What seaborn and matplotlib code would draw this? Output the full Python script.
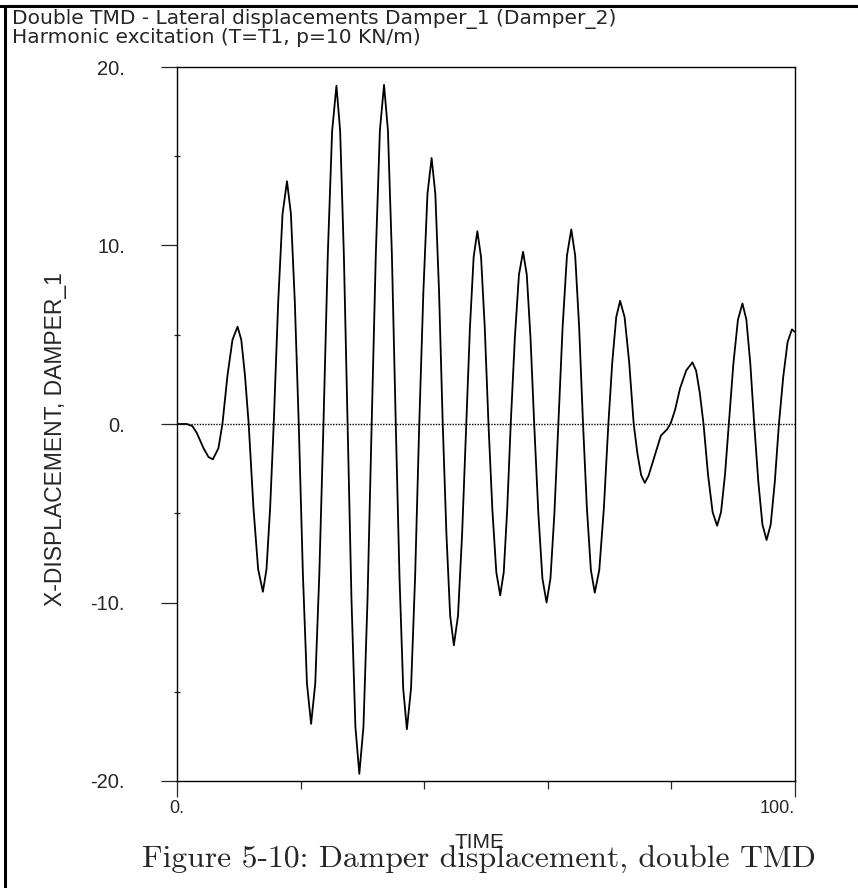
import matplotlib
matplotlib.use("Agg")
import matplotlib.pyplot as plt
import matplotlib.ticker as ticker
from matplotlib.lines import Line2D
import seaborn as sns
import pandas as pd

# Valores (tempo, deslocamento do Damper_1)
time = [0.0, 1.6, 2.5, 3.2, 4.3, 5.1, 5.8, 6.7, 7.35, 8.17, 8.98, 9.8, 10.4, 11.0,
        11.6, 12.37, 13.13, 13.9, 14.48, 15.07, 15.65, 16.37, 17.08, 17.8, 18.43, 19.07,
        19.7, 20.37, 21.03, 21.7, 22.37, 23.03, 23.7, 24.4, 25.1, 25.8, 26.4, 27.0,
        27.6, 28.23, 28.87, 29.5, 30.17, 30.83, 31.5, 32.17, 32.83, 33.5, 34.13, 34.77,
        35.4, 36.0, 36.6, 37.2, 37.87, 38.53, 39.2, 39.87, 40.53, 41.2, 41.8, 42.4,
        43.0, 43.6, 44.2, 44.8, 45.47, 46.13, 46.8, 47.4, 48.0, 48.6, 49.2, 49.8,
        50.4, 51.03, 51.67, 52.3, 52.87, 53.43, 54.0, 54.67, 55.33, 56.0, 56.6, 57.2,
        57.8, 58.47, 59.13, 59.8, 60.43, 61.07, 61.7, 62.4, 63.1, 63.8, 64.43, 65.07,
        65.7, 66.33, 66.97, 67.6, 68.33, 69.07, 69.8, 70.43, 71.07, 71.7, 72.43, 73.17,
        73.9, 74.5, 75.1, 75.7, 76.3, 77.1, 78.3, 79.3, 79.9, 80.6, 81.4, 82.4, 83.4,
        84.0, 84.6, 85.2, 85.93, 86.67, 87.4, 88.03, 88.67, 89.3, 90.03, 90.77, 91.5,
        92.13, 92.77, 93.4, 94.07, 94.73, 95.4, 96.07, 96.73, 97.4, 98.1, 98.8, 99.5, 100.0]
displacement = [0.0, 0.0, -0.12, -0.5, -1.36, -1.85, -1.98, -1.36, 0.0, 2.72, 4.72, 5.45, 4.72, 2.72,
                0.0, -4.7, -8.14, -9.4, -8.14, -4.7, 0.0, 6.8, 11.78, 13.6, 11.78, 6.8,
                0.0, -8.4, -14.55, -16.8, -14.55, -8.4, 0.0, 9.48, 16.41, 18.95, 16.41, 9.48,
                0.0, -9.8, -16.97, -19.6, -16.97, -9.8, 0.0, 9.5, 16.45, 19.0, 16.45, 9.5,
                0.0, -8.55, -14.81, -17.1, -14.81, -8.55, 0.0, 7.45, 12.9, 14.9, 12.9, 7.45,
                0.0, -6.2, -10.74, -12.4, -10.74, -6.2, 0.0, 5.4, 9.35, 10.8, 9.35, 5.4,
                0.0, -4.8, -8.31, -9.6, -8.31, -4.8, 0.0, 4.83, 8.36, 9.65, 8.36, 4.83,
                0.0, -5.0, -8.66, -10.0, -8.66, -5.0, 0.0, 5.45, 9.44, 10.9, 9.44, 5.45,
                0.0, -4.73, -8.18, -9.45, -8.18, -4.73, 0.0, 3.45, 5.98, 6.9, 5.98, 3.45,
                0.0, -1.65, -2.86, -3.3, -2.9, -2.0, -0.65, -0.3, 0.05, 0.8, 2.0, 3.0, 3.45,
                2.99, 1.73, 0.0, -2.85, -4.94, -5.7, -4.94, -2.85, 0.0, 3.38, 5.85, 6.75,
                5.85, 3.38, 0.0, -3.25, -5.63, -6.5, -5.63, -3.25, 0.0, 2.65, 4.59, 5.3, 5.15]

y_ticks = [-20, -10, 0, 10, 20]
y_tick_labels = ['-20.', '-10.', '0.', '10.', '20.']
y_minor = [-15, -5, 5, 15]
x_ticks = [0, 100]
x_tick_labels = ['0.', '100.']
x_minor = [20, 40, 60, 80]

title_lines = ['Double TMD - Lateral displacements Damper_1 (Damper_2)',
               'Harmonic excitation (T=T1, p=10 KN/m)']
caption = 'Figure 5-10: Damper displacement, double TMD'


def main():
    sns.set_style('white')
    plt.rcParams['font.family'] = ['Liberation Sans', 'DejaVu Sans']

    df = pd.DataFrame({'TIME': time, 'DISP': displacement})

    fig = plt.figure(figsize=(8.58, 8.88), dpi=100)
    ax = fig.add_axes([177 / 858, 1 - 781 / 888, 618 / 858, 714 / 888])

    # Linha do zero pontilhada
    ax.axhline(0, color='black', lw=1.0, linestyle=(0, (1, 1)), zorder=1)

    sns.lineplot(data=df, x='TIME', y='DISP', color='black', lw=1.3, ax=ax, zorder=3)

    ax.set_xlim(0, 100)
    ax.set_ylim(-20, 20)

    for s in ax.spines.values():
        s.set_visible(True)
        s.set_color('black')
        s.set_linewidth(1.0)
        s.set_linestyle((0, (1, 1)))

    ax.yaxis.set_major_locator(ticker.FixedLocator(y_ticks))
    ax.yaxis.set_major_formatter(ticker.FixedFormatter(y_tick_labels))
    ax.yaxis.set_minor_locator(ticker.FixedLocator(y_minor))
    ax.xaxis.set_major_locator(ticker.FixedLocator(x_ticks))
    ax.xaxis.set_major_formatter(ticker.FixedFormatter(x_tick_labels))
    ax.xaxis.set_minor_locator(ticker.FixedLocator(x_minor))

    ax.tick_params(axis='y', which='major', direction='out', length=11.5, width=0.9,
                   pad=26, labelsize=14.5, left=True)
    ax.tick_params(axis='y', which='minor', direction='inout', length=5, width=0.9, left=True)
    ax.tick_params(axis='x', which='major', direction='out', length=11.5, width=0.9,
                   pad=2, labelsize=13, bottom=True)
    ax.tick_params(axis='x', which='minor', direction='out', length=6, width=0.9, bottom=True)
    labels = ax.get_xticklabels()
    labels[-1].set_horizontalalignment('right')

    ax.set_ylabel('X-DISPLACEMENT, DAMPER_1', fontsize=16.5)
    ax.yaxis.set_label_coords(-0.178, 0.479)
    ax.set_xlabel('TIME', fontsize=15)
    ax.xaxis.set_label_coords(0.49, -0.073)

    # Titulo em duas linhas, alinhado a esquerda
    fig.text(12 / 858, 1 - 24 / 888, title_lines[0], fontsize=14.5, va='baseline', ha='left',
             family=['DejaVu Sans'])
    fig.text(12 / 858, 1 - 43 / 888, title_lines[1], fontsize=14.5, va='baseline', ha='left',
             family=['DejaVu Sans'])

    # Legenda da figura (fonte serifada)
    fig.text(479 / 858, 1 - 868 / 888, caption, fontsize=22.8, va='baseline', ha='center',
             family=['cmr10', 'DejaVu Serif'])

    # Moldura da pagina
    fig.add_artist(Line2D([0, 1], [1 - 6 / 888, 1 - 6 / 888], color='black', lw=2.2))
    fig.add_artist(Line2D([5 / 858, 5 / 858], [0, 1 - 6 / 888], color='black', lw=2.2))

    fig.savefig('out.png', dpi=100)


if __name__ == '__main__':
    main()
